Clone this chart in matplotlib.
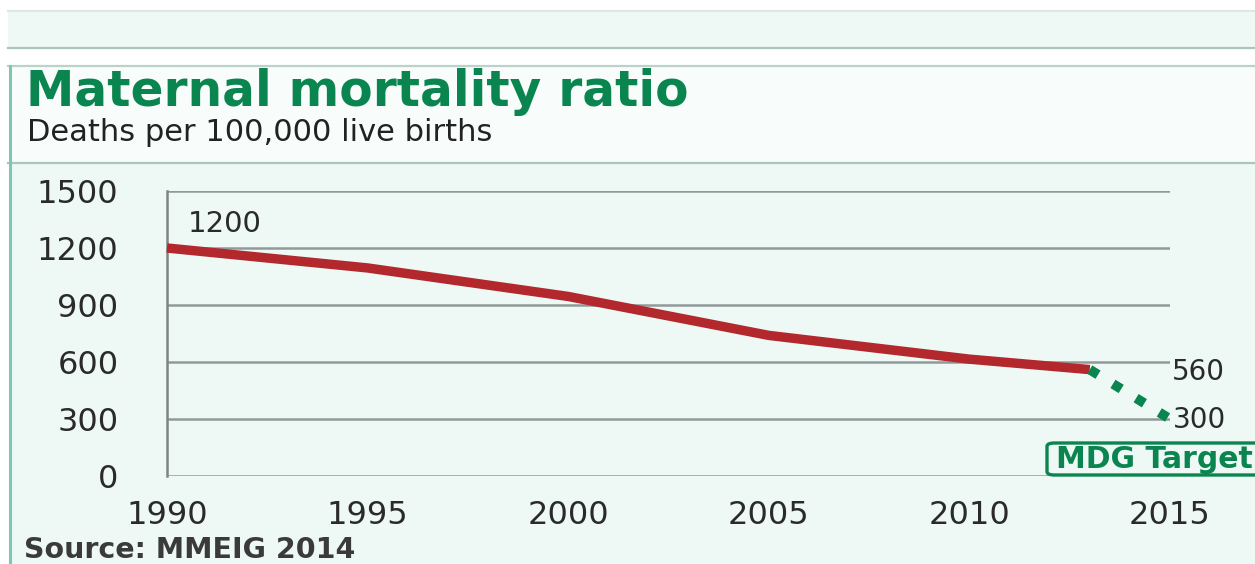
import matplotlib.pyplot as plt
from matplotlib.patches import FancyBboxPatch, Rectangle
from matplotlib.lines import Line2D

# Maternal mortality ratio, deaths per 100,000 live births
years = [1990, 1995, 2000, 2005, 2010, 2013]
mmr = [1200, 1095, 945, 740, 615, 560]

target_years = [2013, 2015]
target_mmr = [560, 300]

y_ticks = [0, 300, 600, 900, 1200, 1500]
x_ticks = [1990, 1995, 2000, 2005, 2010, 2015]

W, H = 1255, 564
GREEN = "#0b8550"
RED = "#b3282d"
MINT = "#eef9f6"


def fx(px):
    return px / W


def fy(py):
    return 1 - py / H


fig = plt.figure(figsize=(W / 100, H / 100), dpi=100)
fig.patch.set_facecolor("white")

# page furniture: top band, title panel and chart panel
fig.patches.append(Rectangle((fx(8), fy(48)), fx(W - 8), fy(11) - fy(48),
                             transform=fig.transFigure, facecolor=MINT,
                             edgecolor="none", zorder=0))
fig.patches.append(Rectangle((fx(9), fy(163)), fx(W - 9), fy(66) - fy(163),
                             transform=fig.transFigure, facecolor="#f8fdfc",
                             edgecolor="none", zorder=0))
fig.patches.append(Rectangle((fx(9), 0), fx(W - 9), fy(163),
                             transform=fig.transFigure, facecolor=MINT,
                             edgecolor="none", zorder=0))
for py, col in [(11, "#dde8e4"), (48, "#a9c6bc"), (66, "#b9d3ca"), (163, "#a9c6bc")]:
    fig.add_artist(Line2D([fx(8), 1], [fy(py), fy(py)], color=col, lw=1.6,
                          transform=fig.transFigure, zorder=1))
fig.add_artist(Line2D([fx(10), fx(10)], [0, fy(66)], color="#7cc8b4", lw=2.2,
                      transform=fig.transFigure, zorder=1))

fig.text(fx(26), fy(106), "Maternal mortality ratio", color=GREEN,
         fontsize=35, fontweight="bold", va="baseline", ha="left")
fig.text(fx(27), fy(141), "Deaths per 100,000 live births", color="#222222",
         fontsize=22, va="baseline", ha="left")
fig.text(fx(24), fy(558), "Source: MMEIG 2014", color="#3a3a3a",
         fontsize=20.5, fontweight="bold", va="baseline", ha="left")

ax = fig.add_axes([fx(167), fy(476), fx(1170) - fx(167), fy(191) - fy(476)])
ax.set_zorder(2)
ax.set_facecolor("none")
ax.set_xlim(1990, 2015)
ax.set_ylim(0, 1500)
ax.set_yticks(y_ticks)
ax.set_xticks(x_ticks)
ax.set_yticklabels([str(v) for v in y_ticks])
ax.set_xticklabels([str(v) for v in x_ticks])
ax.tick_params(axis="y", length=0, pad=35, labelsize=23, labelcolor="#2a2a2a")
ax.tick_params(axis="x", length=0, pad=17, labelsize=23, labelcolor="#2a2a2a")

ax.grid(axis="y", color="#909b99", lw=1.8, zorder=1)
for side in ["top", "right", "bottom"]:
    ax.spines[side].set_visible(False)
ax.spines["left"].set_color("#7d8583")
ax.spines["left"].set_linewidth(1.8)

ax.plot(years, mmr, color=RED, lw=6.8, solid_capstyle="butt",
        solid_joinstyle="round", zorder=3, clip_on=False)
ax.plot(target_years, target_mmr, color=GREEN, lw=7, dashes=(1.0, 1.8),
        dash_capstyle="butt", zorder=4, clip_on=False)

ax.annotate(str(mmr[0]), (years[0], mmr[0]), xytext=(15, 17),
            textcoords="offset points", fontsize=21, color="#2a2a2a",
            ha="left", va="center")
ax.annotate(str(target_mmr[0]), (target_years[0], target_mmr[0]),
            xytext=(59, -2), textcoords="offset points", fontsize=20,
            color="#2a2a2a", ha="left", va="center")
ax.annotate(str(target_mmr[1]), (target_years[1], target_mmr[1]),
            xytext=(2, -1), textcoords="offset points", fontsize=20,
            color="#2a2a2a", ha="left", va="center", zorder=5)

# MDG target tag, running off the right edge
fig.patches.append(FancyBboxPatch((fx(1047), fy(475)), fx(1262) - fx(1047),
                                  fy(443) - fy(475),
                                  boxstyle="round,pad=0,rounding_size=0.006",
                                  transform=fig.transFigure, facecolor=MINT,
                                  edgecolor=GREEN, lw=2.4, zorder=5))
fig.text(fx(1056), fy(460), "MDG Target", color=GREEN, fontsize=21.5,
         fontweight="bold", ha="left", va="center", zorder=6)

fig.savefig("out.png", dpi=100)
